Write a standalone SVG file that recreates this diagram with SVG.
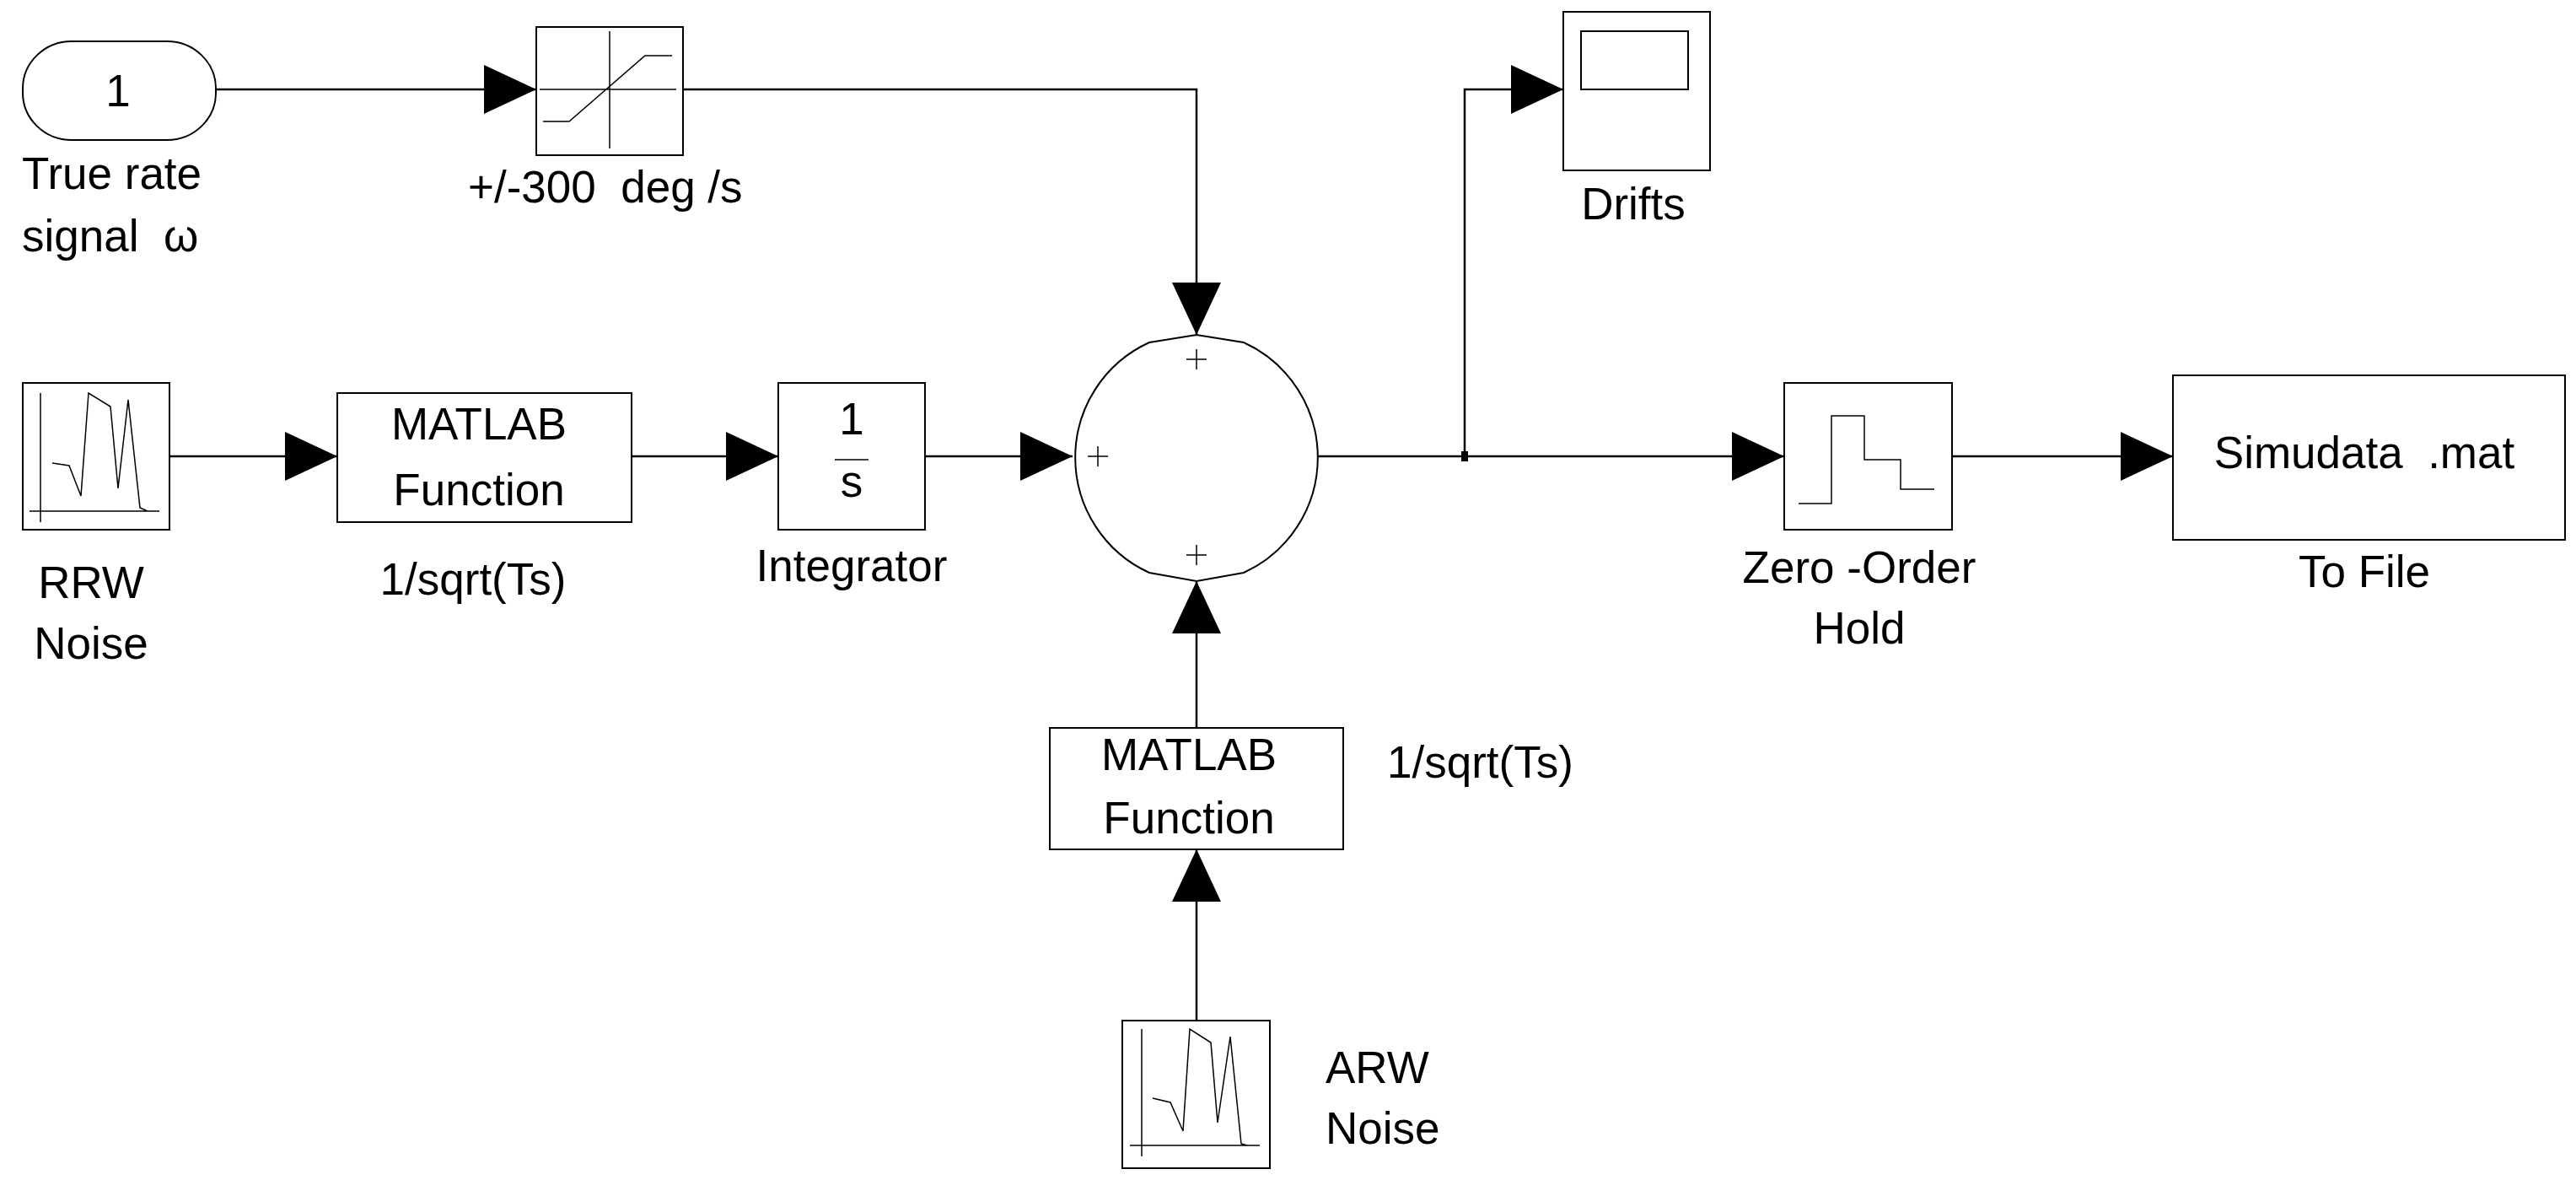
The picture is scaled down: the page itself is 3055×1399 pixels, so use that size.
<svg xmlns="http://www.w3.org/2000/svg" width="3055" height="1399" viewBox="0 0 3055 1399">
<style>
.b{fill:#fff;stroke:#000;stroke-width:2}
.i{fill:none;stroke:#000;stroke-width:1.5}
.c{fill:none;stroke:#000;stroke-width:2.5}
text{font-family:"Liberation Sans",Arial,sans-serif;font-size:53px;fill:#000;white-space:pre}
.m{text-anchor:middle}
</style>
<defs>
<marker id="a" markerUnits="userSpaceOnUse" markerWidth="62" markerHeight="58" refX="62" refY="29" orient="auto"><path d="M0,0L62,29L0,58Z" fill="#000"/></marker>
</defs>
<rect width="3055" height="1399" fill="#fff"/>
<g id="connectors">
<path class="c" d="M256,106H636" marker-end="url(#a)"/>
<path class="c" d="M810,106H1419V397" marker-end="url(#a)"/>
<path class="c" d="M201,541H400" marker-end="url(#a)"/>
<path class="c" d="M749,541H923" marker-end="url(#a)"/>
<path class="c" d="M1097,541H1272" marker-end="url(#a)"/>
<path class="c" d="M1563,541H2116" marker-end="url(#a)"/>
<path class="c" d="M1737,541V106H1854" marker-end="url(#a)"/>
<rect x="1733" y="535" width="8" height="12" fill="#000"/>
<path class="c" d="M2315,541H2577" marker-end="url(#a)"/>
<path class="c" d="M1419,1210V1007" marker-end="url(#a)"/>
<path class="c" d="M1419,863V689" marker-end="url(#a)"/>
</g>
<g id="inport">
<rect class="b" x="27" y="49" width="229" height="117" rx="58" ry="56"/>
<text x="140" y="126" class="m">1</text>
<text x="26" y="224">True rate</text>
<text x="26" y="298">signal  ω</text>
</g>
<g id="saturation">
<rect class="b" x="636" y="32" width="174" height="152"/>
<path class="i" d="M723,37V176M640,106H802M644,144H675L765,66H797"/>
<text x="555" y="240">+/-300  deg /s</text>
</g>
<g id="rrw">
<rect class="b" x="27" y="454" width="174" height="174"/>
<path class="i" d="M48,466V619M35,606H189M62,549L82,552L96,588L105,466L131,482L140,579L152,474L166,602L175,606"/>
<text x="108" y="709" class="m">RRW</text>
<text x="108" y="781" class="m">Noise</text>
</g>
<g id="matlab1">
<rect class="b" x="400" y="466" width="349" height="153"/>
<text x="568" y="521" class="m">MATLAB</text>
<text x="568" y="599" class="m">Function</text>
<text x="561" y="705" class="m">1/sqrt(Ts)</text>
</g>
<g id="integrator">
<rect class="b" x="923" y="454" width="174" height="174"/>
<text x="1010" y="515" class="m">1</text>
<path class="i" d="M990,545H1030"/>
<text x="1010" y="589" class="m">s</text>
<text x="1010" y="689" class="m">Integrator</text>
</g>
<g id="sum">
<path class="b" d="M1363,406L1419,397L1475,406A150,150 0 0 1 1475,679L1419,689L1363,679A150,150 0 0 1 1363,406Z"/>
<path class="i" d="M1407,426H1431M1419,414V438M1290,541H1314M1302,529V553M1407,658H1431M1419,646V670"/>
</g>
<g id="scope">
<rect class="b" x="1854" y="14" width="174" height="188"/>
<rect class="b" x="1875" y="37" width="127" height="69"/>
<text x="1937" y="260" class="m">Drifts</text>
</g>
<g id="zoh">
<rect class="b" x="2116" y="454" width="199" height="174"/>
<path class="i" d="M2133,597H2172V493H2211V545H2254V580H2294"/>
<text x="2205" y="691" class="m">Zero -Order</text>
<text x="2205" y="763" class="m">Hold</text>
</g>
<g id="tofile">
<rect class="b" x="2577" y="445" width="465" height="195"/>
<text x="2804" y="555" class="m">Simudata  .mat</text>
<text x="2804" y="696" class="m">To File</text>
</g>
<g id="matlab2">
<rect class="b" x="1245" y="863" width="348" height="144"/>
<text x="1410" y="913" class="m">MATLAB</text>
<text x="1410" y="988" class="m">Function</text>
<text x="1645" y="922">1/sqrt(Ts)</text>
</g>
<g id="arw">
<rect class="b" x="1331" y="1210" width="175" height="175"/>
<path class="i" d="M1354,1220V1371M1340,1358H1494M1367,1302L1388,1307L1403,1341L1411,1220L1436,1236L1444,1331L1459,1229L1472,1356L1479,1358"/>
<text x="1572" y="1284">ARW</text>
<text x="1572" y="1356">Noise</text>
</g>
</svg>
